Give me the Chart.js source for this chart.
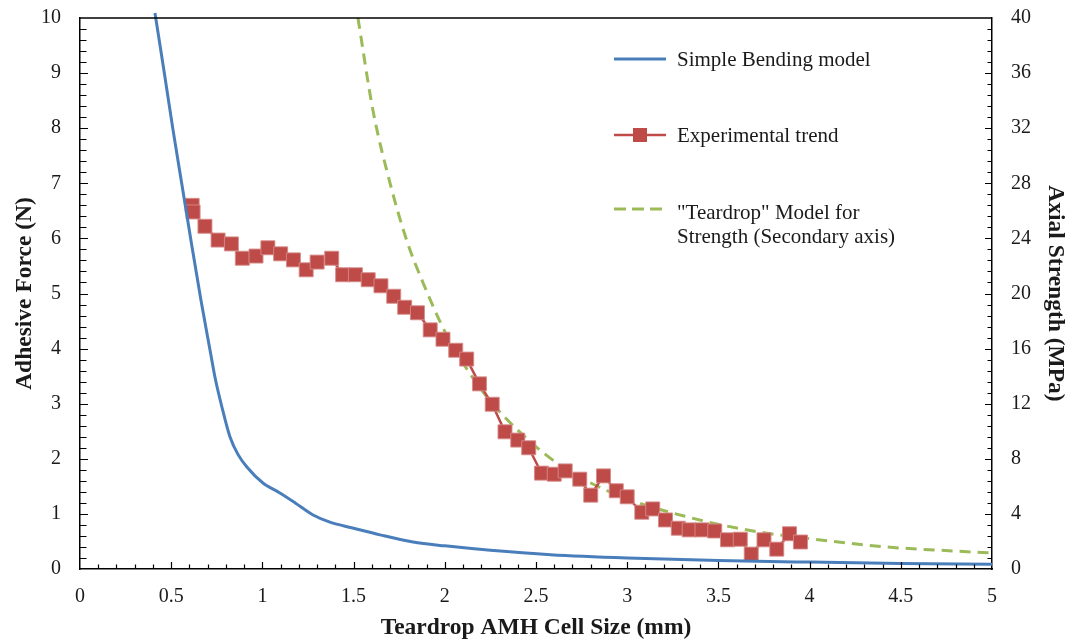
<!DOCTYPE html>
<html>
<head>
<meta charset="utf-8">
<script src="https://cdn.jsdelivr.net/npm/chart.js@4.4.1/dist/chart.umd.min.js"></script>
<style>
  body { margin: 0; background: #fff; }
  #wrap { position: relative; width: 1069px; height: 642px; font-family: "Liberation Serif", "Times New Roman", serif; color: #1a1a1a; }
  #wrap canvas { display: block; }
  #legend .item { position: absolute; font-size: 21px; line-height: 24px; white-space: nowrap; }
  #legend svg { position: absolute; }
</style>
</head>
<body>
<div id="wrap">
  <canvas id="chart" width="1069" height="642"></canvas>
  <div id="legend">
    <svg style="left:612px;top:49px" width="60" height="20"><line x1="2" y1="10" x2="54" y2="10" stroke="#4a7ebb" stroke-width="3"/></svg>
    <div class="item" style="left:677px;top:47px">Simple Bending model</div>
    <svg style="left:612px;top:125px" width="60" height="20"><line x1="2" y1="10" x2="54" y2="10" stroke="#be4b48" stroke-width="2.5"/><rect x="21" y="3" width="14" height="14" fill="#be4b48"/></svg>
    <div class="item" style="left:677px;top:123px">Experimental trend</div>
    <svg style="left:612px;top:199px" width="60" height="20"><line x1="2" y1="10" x2="50" y2="10" stroke="#9bbb59" stroke-width="3" stroke-dasharray="12,6"/></svg>
    <div class="item" style="left:677px;top:200px">"Teardrop" Model for<br>Strength (Secondary axis)</div>
  </div>
</div>
<script>
// Simple Bending model (left axis, N)
const bendX = [0.411, 0.46, 0.51, 0.56, 0.614, 0.663, 0.713, 0.74, 0.778, 0.822, 0.866, 0.915, 1.003, 1.096, 1.18, 1.278, 1.37, 1.50, 1.645, 1.826, 2.0, 2.25, 2.58, 3.0, 3.5, 4.0, 4.5, 5.0];
const bendY = [10.09, 9.05, 7.97, 6.95, 5.85, 4.88, 3.97, 3.48, 2.94, 2.40, 2.08, 1.85, 1.56, 1.38, 1.20, 0.98, 0.85, 0.74, 0.62, 0.49, 0.42, 0.34, 0.26, 0.2, 0.155, 0.125, 0.10, 0.085];

// Experimental trend (left axis, N)
const expX = [0.615, 0.62, 0.685, 0.757, 0.83, 0.89, 0.965, 1.03, 1.10, 1.17, 1.24, 1.30, 1.38, 1.44, 1.51, 1.58, 1.65, 1.72, 1.78, 1.85, 1.92, 1.99, 2.06, 2.12, 2.19, 2.26, 2.33, 2.40, 2.46, 2.53, 2.60, 2.66, 2.74, 2.80, 2.87, 2.94, 3.00, 3.08, 3.14, 3.21, 3.28, 3.34, 3.41, 3.48, 3.55, 3.62, 3.68, 3.75, 3.82, 3.89, 3.95];
const expY = [6.6, 6.48, 6.22, 5.97, 5.9, 5.64, 5.68, 5.83, 5.72, 5.61, 5.43, 5.57, 5.64, 5.34, 5.34, 5.25, 5.14, 4.95, 4.75, 4.65, 4.34, 4.17, 3.97, 3.81, 3.36, 2.99, 2.49, 2.34, 2.2, 1.74, 1.72, 1.78, 1.63, 1.34, 1.69, 1.42, 1.31, 1.03, 1.09, 0.89, 0.74, 0.71, 0.71, 0.69, 0.53, 0.54, 0.27, 0.53, 0.36, 0.64, 0.49];

// "Teardrop" model for strength (right axis, MPa)
const tearX = [1.524, 1.606, 1.70, 1.79, 1.88, 2.01, 2.19, 2.36, 2.63, 2.96, 3.33, 3.69, 4.06, 4.42, 4.79, 5.0];
const tearY = [40.0, 33.3, 28.0, 23.9, 20.8, 17.0, 13.2, 10.6, 7.55, 5.3, 3.78, 2.76, 2.11, 1.6, 1.31, 1.16];

const pts = (xs, ys) => xs.map((x, i) => ({ x: x, y: ys[i] }));

const tickFont = { family: 'Liberation Serif', size: 20 };
const titleFont = { family: 'Liberation Serif', size: 23.5, weight: 'bold' };
const ink = '#1a1a1a';

// inside tick marks (major + minor) and the top frame line
const frameTicks = {
  id: 'frameTicks',
  afterDraw(chart) {
    const { ctx, chartArea: a, scales } = chart;
    ctx.save();
    ctx.strokeStyle = '#000';
    ctx.lineWidth = 1.5;
    ctx.beginPath();
    ctx.moveTo(a.left, a.top);
    ctx.lineTo(a.right, a.top);
    ctx.stroke();
    ctx.lineWidth = 1.2;
    ctx.beginPath();
    for (let i = 1; i < 50; i++) {
      const px = Math.round(scales.x.getPixelForValue(i / 10)) + 0.5;
      const len = i % 5 === 0 ? 7 : 4.5;
      ctx.moveTo(px, a.bottom);
      ctx.lineTo(px, a.bottom - len);
    }
    for (let i = 1; i < 50; i++) {
      const py = Math.round(scales.y.getPixelForValue(i / 5)) + 0.5;
      const len = i % 5 === 0 ? 8 : 6.5;
      ctx.moveTo(a.left, py);
      ctx.lineTo(a.left + len, py);
    }
    for (let i = 1; i < 50; i++) {
      const py = Math.round(scales.y2.getPixelForValue(i * 0.8)) + 0.5;
      const len = i % 5 === 0 ? 7 : 4.5;
      ctx.moveTo(a.right, py);
      ctx.lineTo(a.right - len, py);
    }
    ctx.stroke();
    ctx.restore();
  }
};

function fixVertical(width) {
  return function (s) {
    s.width = width;
    s.paddingTop = 0;
    s.paddingBottom = 0;
  };
}

new Chart(document.getElementById('chart'), {
  type: 'scatter',
  data: {
    datasets: [
      {
        label: 'Simple Bending model',
        data: pts(bendX, bendY),
        showLine: true,
        borderColor: '#4a7ebb',
        borderWidth: 3,
        pointRadius: 0,
        cubicInterpolationMode: 'monotone',
        clip: 8,
        yAxisID: 'y'
      },
      {
        label: 'Experimental trend',
        data: pts(expX, expY),
        showLine: true,
        borderColor: '#be4b48',
        borderWidth: 2.5,
        pointStyle: 'rect',
        pointRadius: 9.9,
        pointBackgroundColor: '#be4b48',
        pointBorderColor: 'rgba(214,140,138,0.9)',
        pointBorderWidth: 1,
        tension: 0,
        yAxisID: 'y'
      },
      {
        label: '"Teardrop" Model for Strength (Secondary axis)',
        data: pts(tearX, tearY),
        showLine: true,
        borderColor: '#9bbb59',
        borderWidth: 3,
        borderDash: [11, 7],
        pointRadius: 0,
        cubicInterpolationMode: 'monotone',
        clip: 8,
        yAxisID: 'y2'
      }
    ]
  },
  options: {
    responsive: false,
    animation: false,
    layout: { autoPadding: false, padding: { top: 18 } },
    plugins: { legend: { display: false }, tooltip: { enabled: false } },
    scales: {
      x: {
        type: 'linear', min: 0, max: 5,
        ticks: { stepSize: 0.5, padding: 16, font: tickFont, color: ink, maxRotation: 0, callback: v => String(v) },
        grid: { display: false, drawTicks: false },
        border: { color: '#000', width: 1.5 },
        title: { display: true, text: 'Teardrop AMH Cell Size (mm)', font: titleFont, color: ink, padding: 0 },
        afterFit(s) { s.height = 73; s.paddingLeft = 0; s.paddingRight = 0; }
      },
      y: {
        position: 'left', min: 0, max: 10,
        ticks: { stepSize: 1, padding: 19, font: tickFont, color: ink },
        grid: { display: false, drawTicks: false },
        border: { color: '#000', width: 1.5 },
        title: { display: true, text: 'Adhesive Force (N)', font: titleFont, color: ink, padding: { top: 11, bottom: 0 } },
        afterFit: fixVertical(80)
      },
      y2: {
        position: 'right', min: 0, max: 40,
        ticks: { stepSize: 4, padding: 19, font: tickFont, color: ink },
        grid: { display: false, drawTicks: false },
        border: { color: '#000', width: 1.5 },
        title: { display: true, text: 'Axial Strength (MPa)', font: titleFont, color: ink, padding: { top: 0, bottom: 0 } },
        afterFit: fixVertical(77)
      }
    }
  },
  plugins: [frameTicks]
});
</script>
</body>
</html>
